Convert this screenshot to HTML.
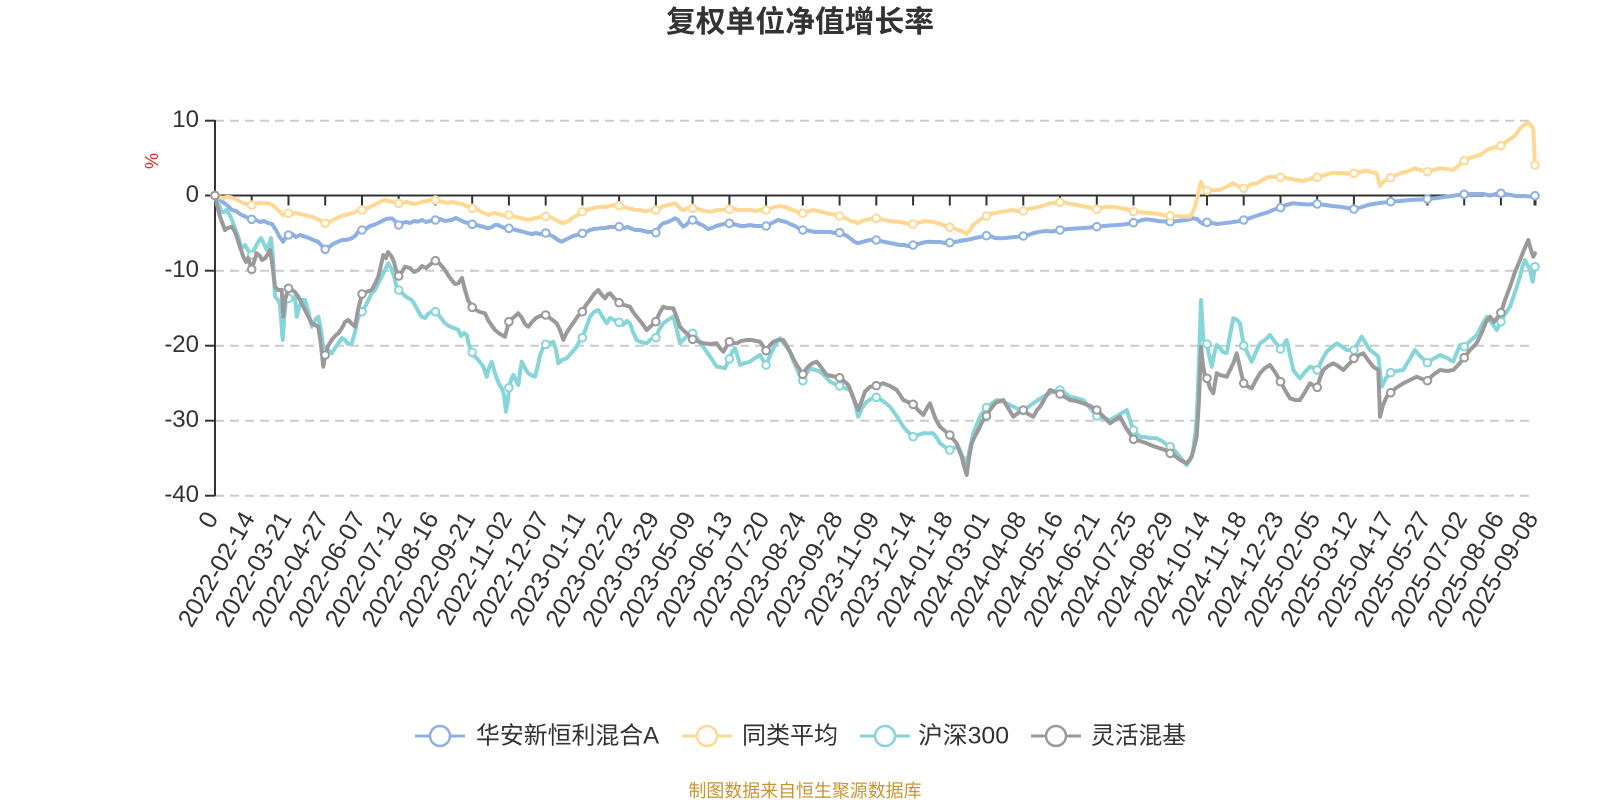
<!DOCTYPE html>
<html>
<head>
<meta charset="utf-8">
<style>
html,body{margin:0;padding:0;background:#fff;}
svg{display:block;}
.t{font-family:"Liberation Sans","Noto Sans CJK SC",sans-serif;}
.b circle{fill:#fff;stroke:#8fb0e2;stroke-width:2;}
.y circle{fill:#fff;stroke:#ffd894;stroke-width:2;}
.c circle{fill:#fff;stroke:#86d5d9;stroke-width:2;}
.g circle{fill:#fff;stroke:#9a9a9a;stroke-width:2;}
.ln{fill:none;stroke-width:4;stroke-linejoin:round;stroke-linecap:round;}
</style>
</head>
<body>
<svg width="1600" height="800" viewBox="0 0 1600 800" xmlns="http://www.w3.org/2000/svg">
<rect width="1600" height="800" fill="#fff"/>

<!-- title -->
<text class="t" x="800" y="22.5" text-anchor="middle" dominant-baseline="central" font-size="30" font-weight="bold" fill="#333" textLength="268" lengthAdjust="spacingAndGlyphs">复权单位净值增长率</text>

<!-- grid lines -->
<g stroke="#cccccc" stroke-width="2" stroke-dasharray="9,6">
<line x1="215" y1="120.7" x2="1535" y2="120.7"/>
<line x1="215" y1="270.7" x2="1535" y2="270.7"/>
<line x1="215" y1="345.7" x2="1535" y2="345.7"/>
<line x1="215" y1="420.7" x2="1535" y2="420.7"/>
<line x1="215" y1="495.7" x2="1535" y2="495.7"/>
</g>

<!-- y axis -->
<g stroke="#333" stroke-width="2">
<line x1="215" y1="120" x2="215" y2="496"/>
<line x1="205" y1="120.7" x2="215" y2="120.7"/>
<line x1="205" y1="195.5" x2="215" y2="195.5"/>
<line x1="205" y1="270.7" x2="215" y2="270.7"/>
<line x1="205" y1="345.7" x2="215" y2="345.7"/>
<line x1="205" y1="420.7" x2="215" y2="420.7"/>
<line x1="205" y1="495.7" x2="215" y2="495.7"/>
</g>
<g class="t" font-size="24" fill="#333" text-anchor="end" dominant-baseline="central">
<text x="199" y="119.5">10</text>
<text x="199" y="194.5">0</text>
<text x="199" y="269.5">-10</text>
<text x="199" y="344.5">-20</text>
<text x="199" y="419.5">-30</text>
<text x="199" y="494.5">-40</text>
</g>
<text class="t" x="152" y="161" font-size="18" fill="#ee2222" text-anchor="middle" dominant-baseline="central" transform="rotate(-90 152 161)">%</text>

<!-- x axis (on zero) -->
<g stroke="#333" stroke-width="2">
<line x1="215" y1="195.5" x2="1536" y2="195.5"/>
<line x1="215" y1="195.5" x2="215" y2="205.5"/>
<line x1="251.7" y1="195.5" x2="251.7" y2="205.5"/>
<line x1="288.5" y1="195.5" x2="288.5" y2="205.5"/>
<line x1="325.2" y1="195.5" x2="325.2" y2="205.5"/>
<line x1="362" y1="195.5" x2="362" y2="205.5"/>
<line x1="398.7" y1="195.5" x2="398.7" y2="205.5"/>
<line x1="435.4" y1="195.5" x2="435.4" y2="205.5"/>
<line x1="472.2" y1="195.5" x2="472.2" y2="205.5"/>
<line x1="508.9" y1="195.5" x2="508.9" y2="205.5"/>
<line x1="545.7" y1="195.5" x2="545.7" y2="205.5"/>
<line x1="582.4" y1="195.5" x2="582.4" y2="205.5"/>
<line x1="619.1" y1="195.5" x2="619.1" y2="205.5"/>
<line x1="655.9" y1="195.5" x2="655.9" y2="205.5"/>
<line x1="692.6" y1="195.5" x2="692.6" y2="205.5"/>
<line x1="729.4" y1="195.5" x2="729.4" y2="205.5"/>
<line x1="766.1" y1="195.5" x2="766.1" y2="205.5"/>
<line x1="802.8" y1="195.5" x2="802.8" y2="205.5"/>
<line x1="839.6" y1="195.5" x2="839.6" y2="205.5"/>
<line x1="876.3" y1="195.5" x2="876.3" y2="205.5"/>
<line x1="913.1" y1="195.5" x2="913.1" y2="205.5"/>
<line x1="949.8" y1="195.5" x2="949.8" y2="205.5"/>
<line x1="986.5" y1="195.5" x2="986.5" y2="205.5"/>
<line x1="1023.3" y1="195.5" x2="1023.3" y2="205.5"/>
<line x1="1060" y1="195.5" x2="1060" y2="205.5"/>
<line x1="1096.8" y1="195.5" x2="1096.8" y2="205.5"/>
<line x1="1133.5" y1="195.5" x2="1133.5" y2="205.5"/>
<line x1="1170.2" y1="195.5" x2="1170.2" y2="205.5"/>
<line x1="1207" y1="195.5" x2="1207" y2="205.5"/>
<line x1="1243.7" y1="195.5" x2="1243.7" y2="205.5"/>
<line x1="1280.5" y1="195.5" x2="1280.5" y2="205.5"/>
<line x1="1317.2" y1="195.5" x2="1317.2" y2="205.5"/>
<line x1="1353.9" y1="195.5" x2="1353.9" y2="205.5"/>
<line x1="1390.7" y1="195.5" x2="1390.7" y2="205.5"/>
<line x1="1427.4" y1="195.5" x2="1427.4" y2="205.5"/>
<line x1="1464.2" y1="195.5" x2="1464.2" y2="205.5"/>
<line x1="1500.9" y1="195.5" x2="1500.9" y2="205.5"/>
<line x1="1535" y1="195.5" x2="1535" y2="205.5" stroke-width="3"/>
</g>

<!-- x labels -->
<g class="t" font-size="25" fill="#333" text-anchor="end" dominant-baseline="central">
<text x="212" y="514" transform="rotate(-60 212 514)">0</text>
<text x="248.7" y="514" transform="rotate(-60 248.7 514)">2022-02-14</text>
<text x="285.5" y="514" transform="rotate(-60 285.5 514)">2022-03-21</text>
<text x="322.2" y="514" transform="rotate(-60 322.2 514)">2022-04-27</text>
<text x="359" y="514" transform="rotate(-60 359 514)">2022-06-07</text>
<text x="395.7" y="514" transform="rotate(-60 395.7 514)">2022-07-12</text>
<text x="432.4" y="514" transform="rotate(-60 432.4 514)">2022-08-16</text>
<text x="469.2" y="514" transform="rotate(-60 469.2 514)">2022-09-21</text>
<text x="505.9" y="514" transform="rotate(-60 505.9 514)">2022-11-02</text>
<text x="542.7" y="514" transform="rotate(-60 542.7 514)">2022-12-07</text>
<text x="579.4" y="514" transform="rotate(-60 579.4 514)">2023-01-11</text>
<text x="616.1" y="514" transform="rotate(-60 616.1 514)">2023-02-22</text>
<text x="652.9" y="514" transform="rotate(-60 652.9 514)">2023-03-29</text>
<text x="689.6" y="514" transform="rotate(-60 689.6 514)">2023-05-09</text>
<text x="726.4" y="514" transform="rotate(-60 726.4 514)">2023-06-13</text>
<text x="763.1" y="514" transform="rotate(-60 763.1 514)">2023-07-20</text>
<text x="799.8" y="514" transform="rotate(-60 799.8 514)">2023-08-24</text>
<text x="836.6" y="514" transform="rotate(-60 836.6 514)">2023-09-28</text>
<text x="873.3" y="514" transform="rotate(-60 873.3 514)">2023-11-09</text>
<text x="910.1" y="514" transform="rotate(-60 910.1 514)">2023-12-14</text>
<text x="946.8" y="514" transform="rotate(-60 946.8 514)">2024-01-18</text>
<text x="983.5" y="514" transform="rotate(-60 983.5 514)">2024-03-01</text>
<text x="1020.3" y="514" transform="rotate(-60 1020.3 514)">2024-04-08</text>
<text x="1057" y="514" transform="rotate(-60 1057 514)">2024-05-16</text>
<text x="1093.8" y="514" transform="rotate(-60 1093.8 514)">2024-06-21</text>
<text x="1130.5" y="514" transform="rotate(-60 1130.5 514)">2024-07-25</text>
<text x="1167.2" y="514" transform="rotate(-60 1167.2 514)">2024-08-29</text>
<text x="1204" y="514" transform="rotate(-60 1204 514)">2024-10-14</text>
<text x="1240.7" y="514" transform="rotate(-60 1240.7 514)">2024-11-18</text>
<text x="1277.5" y="514" transform="rotate(-60 1277.5 514)">2024-12-23</text>
<text x="1314.2" y="514" transform="rotate(-60 1314.2 514)">2025-02-05</text>
<text x="1350.9" y="514" transform="rotate(-60 1350.9 514)">2025-03-12</text>
<text x="1387.7" y="514" transform="rotate(-60 1387.7 514)">2025-04-17</text>
<text x="1424.4" y="514" transform="rotate(-60 1424.4 514)">2025-05-27</text>
<text x="1461.2" y="514" transform="rotate(-60 1461.2 514)">2025-07-02</text>
<text x="1497.9" y="514" transform="rotate(-60 1497.9 514)">2025-08-06</text>
<text x="1532" y="514" transform="rotate(-60 1532 514)">2025-09-08</text>
</g>

<!-- blue series -->
<g class="b">
<polyline class="ln" stroke="#8fb0e2" points="215,195.5 220,200 224,203 228,206 232,210 236,211 240,214 244,216 248,218 251.7,219.3 256,220 260,222 264,221 268,223 272,224 276,230 279,236 283,241.7 286,237 288.5,235 292,234 296,237 300,235 305,236.7 309,238 313,240 318,241.7 322,246 325.2,249.3 329,247 333,244 338,241.7 342,240 346,240 351.7,238.3 355,236 358,232 362,230 366,229 370,226 374,225 378,223 382,221 386,219 391.7,218.3 395,221 398.7,225 402,223 406,222 410,223 414,221 418,221.7 422,220 426,222 430,221 435,220 440,219 445,221 451.7,220 456,218 460,220 464,222 468,223 472.2,224.3 476,225 480,226 484,227 488,228.3 492,227 495,225 498,225 502,227 505,228 508.9,228.3 512,229 516,230 520,231 524,232 528,233.3 532,234 536,233 540,234 545.7,233 550,235 554,237 558,240 561.7,241.7 565,240 569,238 573,236 577,235 582.4,233.3 586,232 590,230 594,229 600,228.3 605,228 610,227 614,227 619.1,226.7 624,228 628,227 632,229 636,230 640,230 644,231 648,232 652,232 655.9,232.7 658,229 661,225 664,223 668,222 672,220 675,218.3 678,220 681,224 683.3,226.7 686,225 689,222 692.6,220 696,222 700,224 704,226 708,229 712,228 716,226 720,225 724,224 729.4,223.3 733,224 737,225 741,226 745,226 750,225 755,226 760,226 766.1,226 770,224 774,222 778,220 782,221 786,222 790,224 795,226 798,228 802.8,230 806,230 810,231 815,232 820,231.7 825,232 830,232 835,233 839.6,232.7 843,234 847,236 851,239 855,242 858.3,243.3 862,242 866,241 870,240 876.3,240 880,241 885,242 890,243 895,244 900,245 904,245 908,246 913.1,245 918,244 922,243 926,242 930,241.7 935,242 940,242 945,243 949.8,242.7 955,242 960,241 965,240 970,239.3 975,238 980,237 986.5,235.7 990,236 995,238 1000,238.3 1005,238 1010,237.5 1015,237 1023.3,236 1028,235 1034,233 1040,231.7 1046,231 1052,231.5 1060,230 1068,229 1076,228.5 1084,228 1090,227.5 1096.8,226.7 1104,226 1110,225.5 1116.7,225 1124,224.5 1133.5,222.7 1138,221.5 1142,220 1146.7,219.3 1152,220 1158,221 1164,221.5 1170.2,221.7 1178,221 1186,220 1193.3,218.3 1197,219 1200,222 1203,224 1207,222.3 1212,223 1217,224 1223,223.3 1230,222.5 1237,221.5 1243.7,220 1250,218 1256,216 1262,214 1267,212.7 1273,210 1280,207.7 1286,205 1293,203.3 1300,204 1308,204.5 1317,204 1325,205 1332,206 1340,206.7 1347,208 1355,209 1362,207 1368,205 1373,204 1380,203 1390.7,201.7 1400,201 1410,200 1420,199.5 1427.4,199 1437,198 1447,196.7 1455,195.5 1464.2,194.3 1474,194 1483,194 1490,195.5 1496,194 1501,193.3 1508,194.5 1516,196 1524,196 1530,196.5 1535,195.7"/>
<circle r="3.8" cx="215" cy="195.5"/><circle r="3.8" cx="251.7" cy="219.3"/><circle r="3.8" cx="288.5" cy="235"/><circle r="3.8" cx="325.2" cy="249.3"/><circle r="3.8" cx="362" cy="230"/><circle r="3.8" cx="398.7" cy="225"/><circle r="3.8" cx="435.4" cy="220"/><circle r="3.8" cx="472.2" cy="224.3"/><circle r="3.8" cx="508.9" cy="228.3"/><circle r="3.8" cx="545.7" cy="233"/><circle r="3.8" cx="582.4" cy="233.3"/><circle r="3.8" cx="619.1" cy="226.7"/><circle r="3.8" cx="655.9" cy="232.7"/><circle r="3.8" cx="692.6" cy="220"/><circle r="3.8" cx="729.4" cy="223.3"/><circle r="3.8" cx="766.1" cy="226"/><circle r="3.8" cx="802.8" cy="230"/><circle r="3.8" cx="839.6" cy="232.7"/><circle r="3.8" cx="876.3" cy="240"/><circle r="3.8" cx="913.1" cy="245"/><circle r="3.8" cx="949.8" cy="242.7"/><circle r="3.8" cx="986.5" cy="235.7"/><circle r="3.8" cx="1023.3" cy="236"/><circle r="3.8" cx="1060" cy="230"/><circle r="3.8" cx="1096.8" cy="226.7"/><circle r="3.8" cx="1133.5" cy="222.7"/><circle r="3.8" cx="1170.2" cy="221.7"/><circle r="3.8" cx="1207" cy="222.3"/><circle r="3.8" cx="1243.7" cy="220"/><circle r="3.8" cx="1280.5" cy="207.7"/><circle r="3.8" cx="1317.2" cy="204"/><circle r="3.8" cx="1353.9" cy="209"/><circle r="3.8" cx="1390.7" cy="201.7"/><circle r="3.8" cx="1427.4" cy="199"/><circle r="3.8" cx="1464.2" cy="194.3"/><circle r="3.8" cx="1500.9" cy="193.3"/><circle r="3.8" cx="1535" cy="195.7"/>
</g>

<!-- yellow series -->
<g class="y">
<polyline class="ln" stroke="#ffd894" points="215,195.5 219,197 223,198 227,197 231,197.3 235,199 239,201 243,203 247,204 251.7,205 255,204 259,203 264,203.3 268,203.3 272,205 276,208 280,212 283,215 286,214 288.5,213.3 292,214 296,213 300,214 305,215 309,216 313,217 317,219 321,221 325.2,223.3 329,222 333,220 337,218 341,216 345,215 349,214 353,213 357,211 362,210 366,209 370,207 374,205 378,203 382,201 385,200 389,201 393,202 398.7,203.3 402,203 406,202 410,203 414,204 418,203.3 422,202 426,201 430,200 435,200 439,201 443,202 448,203 452,202 458,203.3 462,204 466,206 470,207 472.2,208.3 476,209 480,211 484,213 488,215 491,214 495,213 498,214 502,215 505,216 508.9,215 512,216 516,217 520,218 524,219 528,220 532,219 536,218 540,217 545.7,216.3 550,217 554,219 558,221 563,223.3 566,222 569,221 572,218 576,216 580,213 582.4,211.7 586,210 590,209 594,208 600,206.7 605,207 610,206 614,205 619.1,205.7 623,207 627,208 632,209 636,210 640,210 644,211 648,211 652,210 655.9,210 660,208 664,206 668,205 672,204 675,203.3 678,206 681,209 683.3,210 686,209 689,208 692.6,208.3 697,209 701,210 705,211 710,211.7 714,211 718,210 722,210 729.4,209.3 734,209 738,210 742,210 746.7,210 751,210 756,211 760,210 766.1,210 770,209 774,207 780,206 785,207 790,209 795,211 798,212 802.8,213.3 806,212 810,211 813,210 818,211 822,212 826,213 830,214 835,215 839.6,216 843,217 847,219 851,221 855,222 858.3,223.3 862,221 866,220 870,219 876.3,218.3 880,219 885,220 890,221 896.7,221.7 900,222 905,223 909,224 913.1,224 917,223 921,222 925,221 933,221.7 937,223 941,224 945,226 949.8,227.3 954,228 958,230 962,231 966.7,234 970,230 973,225 977,222 981,219 986.5,216 990,214 995,213 1000,212 1003,211.7 1008,211 1012,210 1017,211 1023.3,211 1028,209 1034,208 1040,206.7 1045,205 1050,203.3 1055,203 1060,202.3 1066,203 1071,204 1077,205 1082,206 1087,207 1092,208 1096.8,209.3 1101,208 1105,207 1110,206.7 1115,207 1120,208 1126,209 1133.5,211.7 1138,212 1143,212.5 1148,213 1153,213.3 1158,214 1163,215 1170.2,215.7 1176,216 1182,216.5 1190,216.7 1193,212 1195,206.7 1198,195 1201,181.7 1203,186.7 1207,190.5 1212,190 1216,190 1220,190 1224,188 1228,186 1233,183.3 1238,186 1243.7,188.3 1248,186 1252,184 1256.7,183.3 1261,181 1266,178 1270,176.7 1275,177 1280.5,177.3 1285,178 1291,179 1296.7,180 1302,181 1307,180 1312,178 1317.2,177.3 1322,176 1328,174 1333,172.7 1340,173 1347,173.5 1354,173.3 1360,172 1366.7,170.7 1371,172 1376.7,173.3 1380,186 1384,181 1390.7,177.7 1396,175 1401,173 1406.7,171.7 1411,170 1415,168.3 1420,170 1427.4,171.7 1433,170 1440,168.3 1447,169 1453.3,170 1458,166 1464.2,160.7 1470,158 1476,156 1480,155 1486.7,150 1492,148 1496,147 1500.9,145.7 1506,142 1510,139 1513.3,137.3 1517,133 1520,128.3 1524,125 1528.3,122.7 1531,125 1533.3,129.3 1535,165"/>
<circle r="3.8" cx="215" cy="195.5"/><circle r="3.8" cx="251.7" cy="205"/><circle r="3.8" cx="288.5" cy="213.3"/><circle r="3.8" cx="325.2" cy="223.3"/><circle r="3.8" cx="362" cy="210"/><circle r="3.8" cx="398.7" cy="203.3"/><circle r="3.8" cx="435.4" cy="200"/><circle r="3.8" cx="472.2" cy="208.3"/><circle r="3.8" cx="508.9" cy="215"/><circle r="3.8" cx="545.7" cy="216.3"/><circle r="3.8" cx="582.4" cy="211.7"/><circle r="3.8" cx="619.1" cy="205.7"/><circle r="3.8" cx="655.9" cy="210"/><circle r="3.8" cx="692.6" cy="208.3"/><circle r="3.8" cx="729.4" cy="209.3"/><circle r="3.8" cx="766.1" cy="210"/><circle r="3.8" cx="802.8" cy="213.3"/><circle r="3.8" cx="839.6" cy="216"/><circle r="3.8" cx="876.3" cy="218.3"/><circle r="3.8" cx="913.1" cy="224"/><circle r="3.8" cx="949.8" cy="227.3"/><circle r="3.8" cx="986.5" cy="216"/><circle r="3.8" cx="1023.3" cy="211"/><circle r="3.8" cx="1060" cy="202.3"/><circle r="3.8" cx="1096.8" cy="209.3"/><circle r="3.8" cx="1133.5" cy="211.7"/><circle r="3.8" cx="1170.2" cy="215.7"/><circle r="3.8" cx="1207" cy="190.5"/><circle r="3.8" cx="1243.7" cy="188.3"/><circle r="3.8" cx="1280.5" cy="177.3"/><circle r="3.8" cx="1317.2" cy="177.3"/><circle r="3.8" cx="1353.9" cy="173.3"/><circle r="3.8" cx="1390.7" cy="177.7"/><circle r="3.8" cx="1427.4" cy="171.7"/><circle r="3.8" cx="1464.2" cy="160.7"/><circle r="3.8" cx="1500.9" cy="145.7"/><circle r="3.8" cx="1535" cy="165"/>
</g>

<!-- cyan series -->
<g class="c">
<polyline class="ln" stroke="#86d5d9" points="215,195.5 218,203 221.7,211.7 224,212 226.7,210 229,214 232,220 235,228.3 238,236 241.7,248.3 245,245 248,250 251.7,255 255,248 258.3,241.7 261,238 264,244 266.7,250 269,244 271,238 273,258 275,296.7 278,300 280,305 282.7,340 284.3,316.7 286,300 288.5,298.3 291,300 293,298 295,296.7 296.7,316.7 299,308 302,300 305,300 308,310 311.7,326.7 315,320 318.3,316.7 321,330 324,353.3 328,350 331.7,353.3 335,348 338.3,343.3 342,338 345,340 348,344 351.7,343.3 355,332 358,318 362,311.7 366,305 371.7,293.3 375,290 378.3,283.3 382,276 385,270 388.3,263.3 391,268 394,276 396,285 398.7,290 402,293 405,296 408,298 411.7,300 415,305 418,311 421.7,316.7 425,318 428,314 431,312 435,311.7 438,314 441,318 445,323.3 449,326 454,328 458.3,330 461,336 464,333 466.7,335 469,345 471.7,352.3 474,356 476.7,358.3 480,362 483.3,366.7 486.7,376.7 489,368 491.7,361.7 494,370 496.7,378.3 499,384 501.7,388.3 504,395 506,411.7 508,400 509,387.7 511,380 513.3,375 516,380 518.3,385 520,372 521.7,361.7 525,368 528.3,373.3 531,375 535,376.7 538,365 540,355 543,348 546,344.3 550,343 553.3,341.7 556,350 558.3,363.3 562,360 566.7,358.3 574,350 576.7,346.7 580,340 582.4,337.7 586,328 590,316.7 594,312 598.3,310 602,316 606.7,323.3 610,318 614,320 619.1,322.3 623,325 627,321 630,323.3 633,332 636.7,340 641,342 646.7,343.3 650,340 653,338 655.9,337.7 659,330 663.3,323.3 668,320 673.3,316.7 677,330 680,343.3 683,340 686.7,336.7 692.6,333.3 697,338 701,344 706.7,351.7 711,358 716.7,366.7 720,367 725,368.3 729.4,359 732,352 735,348.3 738,358 740,365 745,363 750,361.7 755,358 760,355 763,360 766.1,365 770,356 773.3,348.3 777,342 780,338.3 785,345 790,351.7 793,360 796.7,368.3 800,376 802.8,380.7 806,374 810,368.3 815,370 820,371.7 825,376 830,381.7 835,384 839.6,386 845,388 850,390 854,400 858.3,416.7 862,408 866.7,401.7 871,399 876.3,397.3 883,401 890,406.7 896,415 903.3,426.7 908,432 913.1,436.7 918,435 923.3,433.3 933.3,433.3 937,438 940,443.3 945,447 950,450 954,448 958.3,446.7 962,455 966.7,463.3 970,448 973.3,433.3 977,424 980,416.7 983,412 986.5,407.7 991,404 996.7,400 1001,401 1006.7,403.3 1020,410 1023.3,410.7 1028,407 1033.3,403.3 1038,400 1043.3,396.7 1050,393 1055,391 1060,390 1065,393 1070,396.7 1076,398 1083.3,400 1090,408 1096.8,416 1103,418 1110,420 1117,416 1122,413 1126.7,410 1130,420 1133.5,430 1137,434 1140,436.7 1145,437 1150,438 1156.7,438.3 1162,441 1166,444 1170.2,446.7 1175,451 1180,456.7 1184,462 1186.7,465 1190,460 1193,452 1196.7,420 1199,360 1201,300 1203.3,340 1207,344 1209,355 1211.7,366.7 1214,355 1216.7,345 1220,348 1223,352 1226.7,353.3 1230,335 1233.3,318.3 1237,320 1240,323.3 1243.7,345.7 1247,352 1251.7,361.7 1256,352 1260,343.3 1265,340 1270,335 1275,342 1280.5,349 1284,344 1286.7,340 1290,355 1293.3,370 1297,375 1300,378.3 1305,372 1310,366.7 1314,368 1317.2,370 1322,360 1326.7,351.7 1331,348 1336.7,343.3 1341,346 1346.7,350 1351,350 1354,350 1358,343 1361.7,336.7 1366,344 1370,350 1374,353 1378.3,356.7 1381.7,386.7 1386,378 1390.7,372.7 1396,371 1403.3,370 1408,362 1412,355 1415,350 1420,356 1427.4,362.7 1433,359 1440,355 1447,358 1453.3,361.7 1457,352 1460,345 1464.2,346.7 1470,341 1476.7,335 1482,325 1486.7,316.7 1491,322 1496.7,330 1500.9,321.7 1505,314 1510,306.7 1515,292 1520,276.7 1522,268 1525,260 1528,266 1530,270 1532.7,281.7 1535,266.7"/>
<circle r="3.8" cx="215" cy="195.5"/><circle r="3.8" cx="251.7" cy="255"/><circle r="3.8" cx="288.5" cy="298.3"/><circle r="3.8" cx="325.2" cy="352"/><circle r="3.8" cx="362" cy="311.7"/><circle r="3.8" cx="398.7" cy="290"/><circle r="3.8" cx="435.4" cy="311.7"/><circle r="3.8" cx="472.2" cy="352.3"/><circle r="3.8" cx="508.9" cy="387.7"/><circle r="3.8" cx="545.7" cy="344.3"/><circle r="3.8" cx="582.4" cy="337.7"/><circle r="3.8" cx="619.1" cy="322.3"/><circle r="3.8" cx="655.9" cy="337.7"/><circle r="3.8" cx="692.6" cy="333.3"/><circle r="3.8" cx="729.4" cy="359"/><circle r="3.8" cx="766.1" cy="365"/><circle r="3.8" cx="802.8" cy="380.7"/><circle r="3.8" cx="839.6" cy="386"/><circle r="3.8" cx="876.3" cy="397.3"/><circle r="3.8" cx="913.1" cy="436.7"/><circle r="3.8" cx="949.8" cy="450"/><circle r="3.8" cx="986.5" cy="407.7"/><circle r="3.8" cx="1023.3" cy="410.7"/><circle r="3.8" cx="1060" cy="390"/><circle r="3.8" cx="1096.8" cy="416"/><circle r="3.8" cx="1133.5" cy="430"/><circle r="3.8" cx="1170.2" cy="446.7"/><circle r="3.8" cx="1207" cy="344"/><circle r="3.8" cx="1243.7" cy="345.7"/><circle r="3.8" cx="1280.5" cy="349"/><circle r="3.8" cx="1317.2" cy="370"/><circle r="3.8" cx="1353.9" cy="350"/><circle r="3.8" cx="1390.7" cy="372.7"/><circle r="3.8" cx="1427.4" cy="362.7"/><circle r="3.8" cx="1464.2" cy="346.7"/><circle r="3.8" cx="1500.9" cy="321.7"/><circle r="3.8" cx="1535" cy="266.7"/>
</g>

<!-- gray series -->
<g class="g">
<polyline class="ln" stroke="#9a9a9a" points="215,195.5 217,205 220,216.7 222,222 225,230 228,228 231.7,226.7 235,232 238.3,241.7 241,250 243.3,256.7 246,262 248,258 251.7,269.3 254,262 256.7,253.3 260,256 262,260 265,258.3 268,254 270,250 272,262 275,286.7 278,290 281.7,290 283.3,316.7 285,300 288.5,288.3 292,290 295,292 298.3,296.7 301,302 305,310 308,316 311.7,323.3 315,325 318.3,326.7 321,345 323.3,366.7 325.2,355 328,346 331.7,340 335,336 338.3,333.3 342,328 345,322 348.3,320 352,324 355,326.7 358,310 362,294 366,292 371.7,290 375,284 378.3,276.7 381,265 383.3,255 386,258 388,252 391.7,256.7 394,262 396,270 398.7,276 402,272 405,266.7 410,268 414,272 418.3,270 422,266 426,268 431.7,263.3 436,260.7 440,264 445,270 448,275 451.7,280 455,284 458.3,283.3 462,278 465,290 468,300 472.2,307.3 476,310 480,312 485,313.3 488,320 492,326 495,330 500,334 505,336.7 508.9,321.7 513,318 518.3,313.3 522,318 525,324 528.3,326.7 532,322 536,318 540,316 545.7,315 550,318 556.7,323.3 560,330 563.3,340 566,334 568.3,330 578,316 582.4,311.7 586,305 590,300 594,294 598.3,290 601,294 605,298.3 608,294 610,293.3 614,298 619.1,302.7 624,305 630,306.7 633,312 636.7,316.7 641,322 646.7,330 651,326 655.9,321.7 659,314 663.3,306.7 667,308 673.3,308.3 677,318 680,326.7 683,330 686.7,333.3 692.6,339.3 697,341 703.3,343.3 710,344 716.7,343.3 720,348 723.3,351.7 729.4,341.7 733,343 736.7,343.3 741,341 746.7,340 752,340 756,341 760,341.7 763,346 766.1,350.7 770,345 773.3,341.7 778,340 783.3,340 787,346 790,351.7 793,358 796.7,365 800,370 802.8,374.3 806,369 810,365 813,363 816.7,361.7 821,367 826.7,375 832,376 839.6,377.7 844,381 848.3,385 852,394 855,402 858.3,410 862,400 865,391.7 870,386.7 876.3,385.7 883,383.3 890,386 896.7,390 900,395 903.3,400 908,402 913.1,404.3 918,410 923.3,415 927,408 930,403.3 933,412 936,420 940,426.7 945,431 949.8,435 953,439 956.7,443.3 959,450 961.7,456.7 964,466 966.7,475 969,458 971.7,443.3 975,436 978.3,430 982,422 986.5,416 990,410 995,403.3 1000,401 1003.3,400 1008,408 1013.3,416.7 1018,413 1023.3,410 1028,414 1033.3,416.7 1037,410 1040,406.7 1045,398 1050,390 1055,392 1060,394 1065,397 1070,400 1076,401 1083.3,403.3 1090,406 1096.8,410 1103,416 1110,423.3 1115,420 1120,416.7 1126,428 1133.5,439.3 1140,441 1146.7,443.3 1153,446 1160,448.3 1165,450 1170.2,453.3 1175,456 1180,460 1186.7,463.3 1191.7,456.7 1194,448 1196.7,436.7 1199,400 1201,346.7 1203,365 1205,376.7 1207,378.3 1210,388 1213.3,393.3 1216.7,373.3 1220,375 1226.7,376.7 1230,370 1233.3,363.3 1236.7,353.3 1240,368 1243.7,383.3 1247,386 1251.7,388.3 1256,380 1260,373.3 1265,368 1270,365 1275,372 1280.5,381.7 1285,390 1290,398.3 1295,400 1300,400 1305,392 1310,383.3 1314,386 1317.2,387.3 1320,378 1323.3,370 1328,366 1333.3,363.3 1338,366 1343.3,370 1349,364 1355,358.3 1359,355 1363.3,353.3 1368,360 1373.3,366.7 1378.3,370 1380,416.7 1383,405 1386.7,396.7 1390.7,392.7 1396,388 1403.3,383.3 1410,380 1416.7,376.7 1422,379 1427.4,380.7 1433,375 1440,370 1447,371 1453.3,370 1459,364 1464.2,357.7 1470,350 1476.7,343.3 1482,332 1486,322 1490,316.7 1494,322 1497,318 1500.9,312.7 1505,300 1510,286.7 1515,272 1520,260 1524,250 1528.3,240 1531,250 1533.3,256.7 1535,253.3"/>
<circle r="3.8" cx="215" cy="195.5"/><circle r="3.8" cx="251.7" cy="269.3"/><circle r="3.8" cx="288.5" cy="288.3"/><circle r="3.8" cx="325.2" cy="355"/><circle r="3.8" cx="362" cy="294"/><circle r="3.8" cx="398.7" cy="276"/><circle r="3.8" cx="435.4" cy="260.7"/><circle r="3.8" cx="472.2" cy="307.3"/><circle r="3.8" cx="508.9" cy="321.7"/><circle r="3.8" cx="545.7" cy="315"/><circle r="3.8" cx="582.4" cy="311.7"/><circle r="3.8" cx="619.1" cy="302.7"/><circle r="3.8" cx="655.9" cy="321.7"/><circle r="3.8" cx="692.6" cy="339.3"/><circle r="3.8" cx="729.4" cy="341.7"/><circle r="3.8" cx="766.1" cy="350.7"/><circle r="3.8" cx="802.8" cy="374.3"/><circle r="3.8" cx="839.6" cy="377.7"/><circle r="3.8" cx="876.3" cy="385.7"/><circle r="3.8" cx="913.1" cy="404.3"/><circle r="3.8" cx="949.8" cy="435"/><circle r="3.8" cx="986.5" cy="416"/><circle r="3.8" cx="1023.3" cy="410"/><circle r="3.8" cx="1060" cy="394"/><circle r="3.8" cx="1096.8" cy="410"/><circle r="3.8" cx="1133.5" cy="439.3"/><circle r="3.8" cx="1170.2" cy="453.3"/><circle r="3.8" cx="1207" cy="378.3"/><circle r="3.8" cx="1243.7" cy="383.3"/><circle r="3.8" cx="1280.5" cy="381.7"/><circle r="3.8" cx="1317.2" cy="387.3"/><circle r="3.8" cx="1353.9" cy="358.3"/><circle r="3.8" cx="1390.7" cy="392.7"/><circle r="3.8" cx="1427.4" cy="380.7"/><circle r="3.8" cx="1464.2" cy="357.7"/><circle r="3.8" cx="1500.9" cy="312.7"/>
</g>

<!-- legend -->
<g stroke-width="3" fill="#fff">
<line x1="415" y1="736" x2="465" y2="736" stroke="#8fb0e2"/>
<circle cx="440" cy="736" r="10" stroke="#8fb0e2" stroke-width="2.5"/>
<line x1="682" y1="736" x2="732" y2="736" stroke="#ffd894"/>
<circle cx="707" cy="736" r="10" stroke="#ffd894" stroke-width="2.5"/>
<line x1="860" y1="736" x2="910" y2="736" stroke="#86d5d9"/>
<circle cx="885" cy="736" r="10" stroke="#86d5d9" stroke-width="2.5"/>
<line x1="1031" y1="736" x2="1081" y2="736" stroke="#9a9a9a"/>
<circle cx="1056" cy="736" r="10" stroke="#9a9a9a" stroke-width="2.5"/>
</g>
<g class="t" font-size="24" fill="#333" dominant-baseline="central">
<text x="476" y="736" textLength="183" lengthAdjust="spacingAndGlyphs">华安新恒利混合A</text>
<text x="742" y="736" textLength="96" lengthAdjust="spacingAndGlyphs">同类平均</text>
<text x="918" y="736" textLength="91" lengthAdjust="spacingAndGlyphs">沪深300</text>
<text x="1091" y="736" textLength="95" lengthAdjust="spacingAndGlyphs">灵活混基</text>
</g>

<!-- footer -->
<text class="t" x="805" y="791" font-size="18" fill="#c9952f" text-anchor="middle" dominant-baseline="central" textLength="233" lengthAdjust="spacingAndGlyphs">制图数据来自恒生聚源数据库</text>
</svg>
</body>
</html>
